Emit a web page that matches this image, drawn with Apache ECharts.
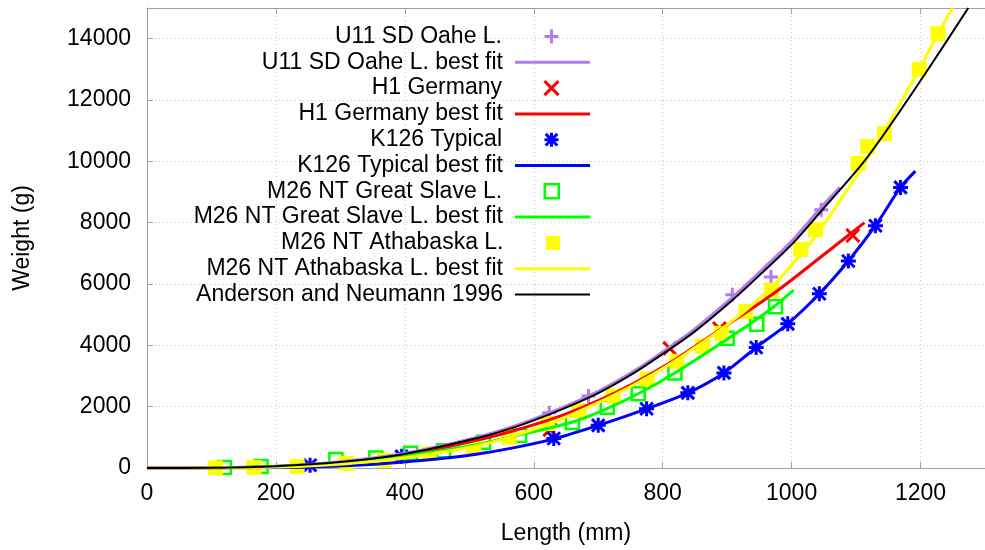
<!DOCTYPE html>
<html>
<head>
<meta charset="utf-8">
<script src="https://cdn.jsdelivr.net/npm/echarts@6/dist/echarts.min.js"></script>
<style>
html,body{margin:0;padding:0;background:#fff;}
#chart{width:985px;height:550px;}
</style>
</head>
<body>
<div id="chart"></div>
<script>
// ---- data (length mm, weight g) ----
const seriesNames = [
  "U11 SD Oahe L.", "U11 SD Oahe L. best fit",
  "H1 Germany", "H1 Germany best fit",
  "K126 Typical", "K126 Typical best fit",
  "M26 NT Great Slave L.", "M26 NT Great Slave L. best fit",
  "M26 NT Athabaska L.", "M26 NT Athabaska L. best fit",
  "Anderson and Neumann 1996"
];
const oahePoints = [[624,1800],[685,2350],[908,5650],[968,6230],[1046,8420]];
const oaheFit = [[0,0],[100,8],[200,60],[300,205],[400,480],[511,1000],[573,1390],[634,1880],[696,2460],[757,3180],[803,3830],[849,4520],[908,5560],[957,6520],[1003,7460],[1046,8500],[1075,9150]];
const germanyPoints = [[625,1250],[811,3900],[888,4550],[1095,7580]];
const germanyFit = [[0,0],[100,7],[200,50],[300,170],[400,410],[511,900],[573,1240],[634,1640],[700,2200],[753,2740],[819,3530],[880,4390],[972,5690],[1064,7190],[1113,8000]];
const typicalPoints = [[253,90],[395,380],[631,960],[700,1390],[775,1930],[839,2450],[895,3100],[945,3930],[994,4700],[1043,5680],[1088,6750],[1130,7900],[1169,9150]];
const typicalFit = [[0,0],[150,5],[250,30],[358,130],[450,290],[511,450],[570,665],[631,950],[700,1390],[775,1930],[839,2450],[895,3100],[945,3930],[994,4700],[1043,5680],[1088,6750],[1130,7900],[1169,9150],[1192,9680]];
const slavePoints = [[120,20],[177,50],[293,280],[355,330],[409,480],[460,560],[522,840],[578,1060],[660,1480],[714,1980],[762,2420],[819,3100],[900,4230],[946,4690],[975,5260]];
const slaveFit = [[100,5],[200,45],[300,170],[400,390],[511,760],[578,1080],[660,1500],[714,1940],[762,2420],[819,3100],[900,4200],[946,4850],[975,5300],[1003,5800]];
const athabaskaPoints = [[106,5],[166,17],[233,54],[309,150],[368,250],[438,460],[507,690],[562,1000],[622,1450],[670,1870],[723,2350],[776,2900],[822,3480],[862,3970],[891,4390],[929,5100],[969,5800],[1014,7130],[1037,7770],[1103,9930],[1118,10480],[1144,10900],[1198,13000],[1227,14160]];
const athabaskaFit = [[0,0],[106,4],[166,16],[233,52],[309,140],[368,250],[438,450],[507,700],[562,1000],[622,1430],[670,1850],[723,2360],[776,2950],[822,3530],[862,4100],[891,4530],[929,5150],[969,5900],[1014,6950],[1037,7550],[1103,9600],[1144,11000],[1198,13000],[1227,14160],[1250,15000]];
const andersonNeumann = [[0,0],[100,7],[200,57],[300,195],[400,460],[511,968],[573,1350],[634,1830],[696,2400],[757,3120],[803,3760],[849,4440],[908,5470],[957,6420],[1003,7350],[1046,8380],[1111,9960],[1157,11300],[1218,13200],[1274,15000]];

const FONT = "'Liberation Sans', Arial, sans-serif";
const FS = 23;
const C_PURPLE = '#b07cf0', C_RED = '#ff0000', C_BLUE = '#0000ff', C_GREEN = '#00ff00', C_YELLOW = '#ffff00', C_BLACK = '#000000';

const SYM_PLUS = 'path://M6,0L6,12M0,6L12,6';
const SYM_CROSS = 'path://M0,0L12,12M12,0L0,12';
const SYM_STAR = 'path://M6,0L6,12M0,6L12,6M1,1L11,11M11,1L1,11';
const SYM_SQUARE = 'path://M0,0L12,0L12,12L0,12Z';

function scatter(name, data, symbol, size, color, bw) {
  return {
    name: name, type: 'scatter', data: data, symbol: symbol, symbolSize: size,
    clip: false, silent: true,
    itemStyle: { color: 'rgba(0,0,0,0)', borderColor: color, borderWidth: bw, opacity: 1 }
  };
}
function fit(name, data, color, w) {
  return {
    name: name, type: 'line', data: data, symbol: 'none', showSymbol: false,
    smooth: 0.3, silent: true,
    lineStyle: { color: color, width: w }, itemStyle: { color: color }
  };
}

const series = [
  scatter(seriesNames[0], oahePoints, SYM_PLUS, 14, C_PURPLE, 3),
  fit(seriesNames[1], oaheFit, C_PURPLE, 3),
  scatter(seriesNames[2], germanyPoints, SYM_CROSS, 13, C_RED, 3),
  fit(seriesNames[3], germanyFit, C_RED, 3),
  scatter(seriesNames[4], typicalPoints, SYM_STAR, 15, C_BLUE, 3),
  fit(seriesNames[5], typicalFit, C_BLUE, 3),
  scatter(seriesNames[6], slavePoints, SYM_SQUARE, 13, C_GREEN, 2.5),
  fit(seriesNames[7], slaveFit, C_GREEN, 3),
  {
    name: seriesNames[8], type: 'scatter', data: athabaskaPoints, symbol: SYM_SQUARE, symbolSize: 15,
    clip: false, silent: true, itemStyle: { color: C_YELLOW, opacity: 1 }
  },
  fit(seriesNames[9], athabaskaFit, C_YELLOW, 3),
  fit(seriesNames[10], andersonNeumann, C_BLACK, 2)
];

// legend: markers for point series, plain bars for fit lines
const legendKinds = [
  { m: 3 }, { l: 3, c: C_PURPLE },
  { m: 3 }, { l: 3, c: C_RED },
  { m: 3 }, { l: 3, c: C_BLUE },
  { m: 2.5 }, { l: 3, c: C_GREEN },
  { m: 0 }, { l: 3, c: C_YELLOW },
  { l: 2, c: C_BLACK }
];
const legends = seriesNames.map(function (n, i) {
  const k = legendKinds[i];
  const center = 36.5 + 25.8 * i;
  const l = {
    data: [n], orient: 'vertical', align: 'right', padding: 0,
    top: center - 11.5, itemWidth: 75, selectedMode: false,
    textStyle: { fontSize: FS, fontFamily: FONT, color: '#000', padding: [0, 7, 0, 0] }
  };
  if (k.l) {
    l.right = 395;
    l.icon = 'rect';
    l.itemHeight = k.l;
    l.symbolKeepAspect = false;
    l.itemStyle = { color: k.c, borderWidth: 0 };
  } else {
    l.right = 425;
    l.itemHeight = 14;
    l.symbolKeepAspect = true;
    l.itemStyle = { opacity: 1 };
    if (k.m) l.itemStyle.borderWidth = k.m;
  }
  return l;
});

const plain = function (v) { return String(v); };
const axisGray = '#a0a0a0';
const option = {
  animation: false,
  backgroundColor: '#fff',
  grid: { left: 147, top: 8, width: 846, height: 465, containLabel: false },
  legend: legends,
  xAxis: [{
    type: 'value', min: 0, max: 1300, interval: 200,
    name: 'Length (mm)', nameLocation: 'middle', nameGap: 54,
    nameTextStyle: { fontSize: FS, fontFamily: FONT, color: '#000' },
    axisLine: { show: true, lineStyle: { color: axisGray, width: 1 } },
    axisTick: { show: true, inside: true, length: 6, lineStyle: { color: axisGray } },
    axisLabel: { fontSize: FS, fontFamily: FONT, color: '#000', margin: 14, showMaxLabel: false, formatter: plain },
    splitLine: { show: true, lineStyle: { color: '#c8c8c8', type: [1, 3], width: 1 } }
  }, {
    type: 'value', min: 0, max: 1300, interval: 200, position: 'top',
    axisLine: { show: true, lineStyle: { color: axisGray, width: 1 } },
    axisTick: { show: true, inside: true, length: 6, lineStyle: { color: axisGray } },
    axisLabel: { show: false }, splitLine: { show: false }
  }],
  yAxis: [{
    type: 'value', min: 0, max: 15000, interval: 2000,
    name: 'Weight (g)', nameLocation: 'middle', nameGap: 113, nameRotate: 90,
    nameTextStyle: { fontSize: FS, fontFamily: FONT, color: '#000' },
    axisLine: { show: true, lineStyle: { color: axisGray, width: 1 } },
    axisTick: { show: true, inside: true, length: 6, lineStyle: { color: axisGray } },
    axisLabel: { fontSize: FS, fontFamily: FONT, color: '#000', margin: 16, showMaxLabel: false, formatter: plain },
    splitLine: { show: true, lineStyle: { color: '#c8c8c8', type: [1, 3], width: 1 } }
  }],
  series: series
};

const chart = echarts.init(document.getElementById('chart'), null, { renderer: 'canvas' });
chart.setOption(option);
</script>
</body>
</html>
